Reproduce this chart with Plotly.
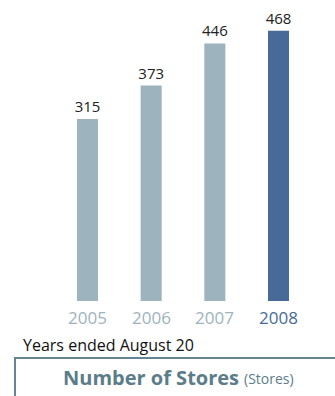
import plotly.graph_objects as go

years = ["2005", "2006", "2007", "2008"]
stores = [315, 373, 446, 468]
bar_colors = ["#9db3bd", "#9db3bd", "#9db3bd", "#476a99"]
year_colors = ["#9db3bd", "#9db3bd", "#9db3bd", "#476a99"]

W, H = 335, 396
FONT = "Open Sans"

fig = go.Figure(go.Bar(
    x=list(range(len(years))), y=stores,
    marker=dict(color=bar_colors, line=dict(width=0)),
    width=0.33,
    text=[str(v) for v in stores], textposition="outside",
    textfont=dict(family=FONT, size=15, color="#222222"),
    constraintext="none",
    cliponaxis=False,
    hoverinfo="skip",
))

base_px = 301
fig.update_layout(
    width=W, height=H,
    margin=dict(l=0, r=0, t=0, b=0),
    paper_bgcolor="white", plot_bgcolor="white",
    showlegend=False,
    xaxis=dict(range=[-87.5 / 63.67, (W - 87.5) / 63.67], visible=False, domain=[0, 1]),
    yaxis=dict(range=[0, base_px / 0.5775], visible=False, domain=[(H - base_px) / H, 1]),
)

for i, (yr, c) in enumerate(zip(years, year_colors)):
    fig.add_annotation(x=i, y=0, xref="x", yref="y", text=yr, showarrow=False,
                       yanchor="top", yshift=-3,
                       font=dict(family=FONT, size=17, color=c))

fig.add_annotation(x=21 / W, y=1 - 345 / H, xref="paper", yref="paper",
                   text="Years ended August 20", showarrow=False,
                   xanchor="left", yanchor="middle",
                   font=dict(family=FONT, size=16, color="#111111"))

box_color = "#648692"
fig.add_shape(type="line", xref="paper", yref="paper",
              x0=14 / W, x1=1, y0=1 - 358 / H, y1=1 - 358 / H,
              line=dict(color=box_color, width=2))
fig.add_shape(type="line", xref="paper", yref="paper",
              x0=15 / W, x1=15 / W, y0=1 - 357 / H, y1=0,
              line=dict(color=box_color, width=2))

fig.add_annotation(x=61 / W, y=1 - 377 / H, xref="paper", yref="paper",
                   text="<b>Number of Stores</b>",
                   showarrow=False, xanchor="left", yanchor="middle",
                   font=dict(family=FONT, size=20, color="#5b7c89"))
fig.add_annotation(x=242 / W, y=1 - 378 / H, xref="paper", yref="paper",
                   text="(Stores)",
                   showarrow=False, xanchor="left", yanchor="middle",
                   font=dict(family=FONT, size=14, color="#5b7c89"))

fig.write_html("out.html", config={"displayModeBar": False},
               post_script="document.body.style.margin='0px';")
